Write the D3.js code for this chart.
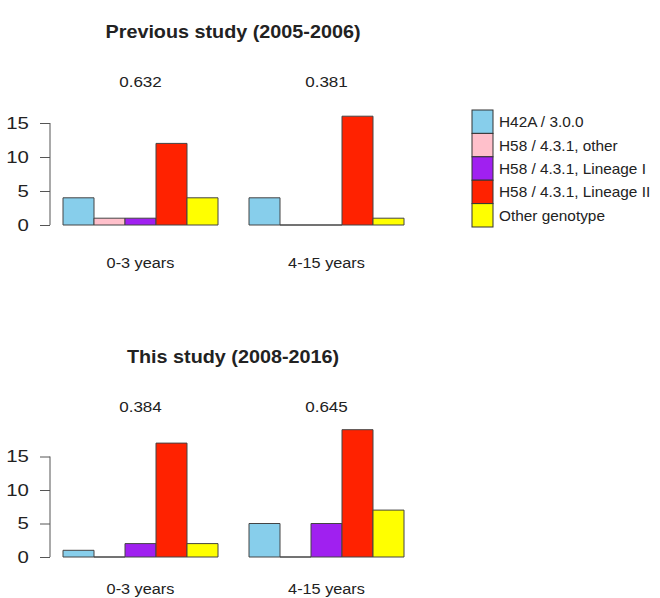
<!DOCTYPE html>
<html>
<head>
<meta charset="utf-8">
<script src="https://cdn.jsdelivr.net/npm/d3@7"></script>
<style>
  body { margin: 0; background: #fff; }
  text { font-family: "Liberation Sans", Arial, sans-serif; fill: #222; }
</style>
</head>
<body>
<script>
// genotype series, same order in every group
const genotypes = ["H42A / 3.0.0", "H58 / 4.3.1, other", "H58 / 4.3.1, Lineage I", "H58 / 4.3.1, Lineage II", "Other genotype"];
const colors = ["#87CEEB", "#FFC0CB", "#A020F0", "#FF2200", "#FFFF00"];
const ageGroups = ["0-3 years", "4-15 years"];
const yTicks = [0, 5, 10, 15];

// counts per age group
const previousCounts = [[4, 1, 1, 12, 4], [4, 0, 0, 16, 1]];
const previousP = ["0.632", "0.381"];
const thisCounts = [[1, 0, 2, 17, 2], [5, 0, 5, 19, 7]];
const thisP = ["0.384", "0.645"];

const panels = [
  {title: "Previous study (2005-2006)", counts: previousCounts, pvals: previousP,
   titleY: 38, pY: 87, baseY: 225, unit: 6.8, labelY: 268},
  {title: "This study (2008-2016)", counts: thisCounts, pvals: thisP,
   titleY: 363, pY: 412, baseY: 557, unit: 6.7, labelY: 594}
];

const width = 660, height = 598;
const svg = d3.select("body").append("svg").attr("width", width).attr("height", height);

const barW = 31, x0 = 63;
const nBars = genotypes.length;

// slightly wide text, like the source picture
function wideText(sel, x, yPos, sx) {
  return sel.attr("transform", "translate(" + x + "," + yPos + ") scale(" + sx + ",1)");
}

panels.forEach(p => {
  const g = svg.append("g");
  const baseY = p.baseY;
  const y = d3.scaleLinear().domain([0, 15]).range([baseY, baseY - 15 * p.unit]);

  wideText(g.append("text"), 233, p.titleY, 1.07).attr("text-anchor", "middle")
    .style("font-size", "18.5px").style("font-weight", "bold").text(p.title);

  // group start position (R style: one bar of space between groups)
  const groupX = i => x0 + i * (nBars + 1) * barW;

  p.counts.forEach((vals, gi) => {
    const gx = groupX(gi);
    const cx = gx + nBars * barW / 2;
    g.selectAll(null).data(vals).enter().append("path")
      .attr("d", (v, i) => {
        const bx = gx + i * barW, top = y(v);
        return "M" + bx + "," + baseY + "V" + top + "H" + (bx + barW) + "V" + baseY + "Z";
      })
      .attr("fill", (v, i) => colors[i])
      .attr("stroke", "#444").attr("stroke-width", 1);
    wideText(g.append("text"), cx, p.pY, 1.1).attr("text-anchor", "middle")
      .style("font-size", "15.5px").text(p.pvals[gi]);
    wideText(g.append("text"), cx, p.labelY, 1.05).attr("text-anchor", "middle")
      .style("font-size", "15.5px").text(ageGroups[gi]);
  });

  const axis = d3.axisLeft(y).tickValues(yTicks).tickSize(10).tickPadding(10);
  const ax = g.append("g").attr("transform", "translate(50,0)").call(axis);
  ax.select(".domain").attr("d", "M0," + y(0) + "V" + y(15)).attr("stroke", "#555");
  ax.selectAll(".tick line").attr("stroke", "#555");
  ax.selectAll(".tick text").style("font-size", "17px").attr("fill", "#222")
    .attr("font-family", "Liberation Sans, Arial, sans-serif")
    .attr("transform", "translate(-14,0) scale(1.2,1) translate(14,0)");
});

// legend
const leg = svg.append("g").attr("transform", "translate(472,110)");
const rowH = 23.4;
leg.selectAll("rect").data(genotypes).enter().append("rect")
  .attr("x", 0).attr("y", (d, i) => i * rowH).attr("width", 21).attr("height", rowH)
  .attr("fill", (d, i) => colors[i]).attr("stroke", "#333");
leg.selectAll("text").data(genotypes).enter().append("text")
  .attr("transform", (d, i) => "translate(27," + (i * rowH + rowH / 2 + 5.5) + ") scale(1.06,1)")
  .style("font-size", "14.5px").text(d => d);
</script>
</body>
</html>
